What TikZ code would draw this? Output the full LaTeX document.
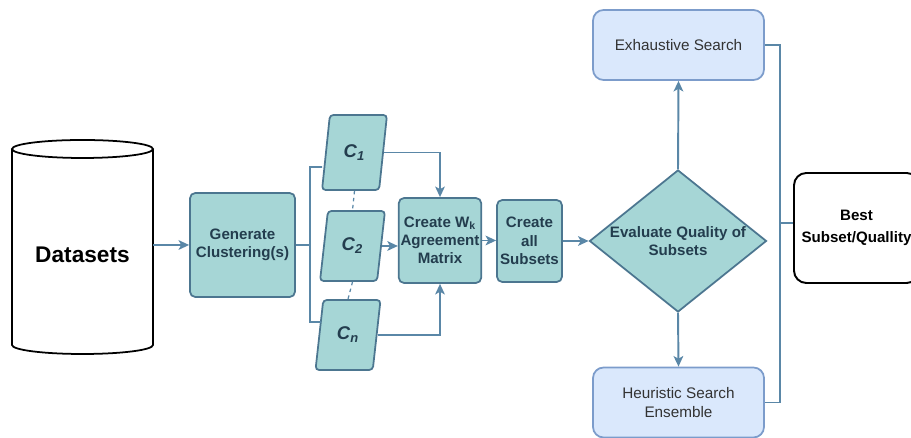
\documentclass[tikz,border=0pt]{standalone}
\usepackage{fontspec}
\setmainfont{Liberation Sans}
\usetikzlibrary{arrows.meta}
\usetikzlibrary{shapes.geometric}
\definecolor{tealfill}{HTML}{A6D6D6}
\definecolor{tealdraw}{HTML}{4C7690}
\definecolor{tealtext}{HTML}{233D4E}
\definecolor{linkcol}{HTML}{5A87A7}
\definecolor{bluefill}{HTML}{DAE8FC}
\definecolor{bluedraw}{HTML}{7C9CCB}
\newcommand{\clab}[1]{\textbf{\textit{C}}\textsubscript{\textbf{\textit{#1}}}}

\begin{document}
\begin{tikzpicture}[>={Stealth[length=6pt,width=5.5pt,inset=1.5pt]},
    proc/.style={draw=tealdraw, fill=tealfill, line width=1pt, rounded corners=3pt, align=center, text=tealtext, inner sep=1pt, font=\fontsize{8.6}{10.4}\selectfont\bfseries},
    clus/.style={trapezium, trapezium left angle=79, trapezium right angle=101, trapezium stretches=true, draw=tealdraw, fill=tealfill, line width=1pt, rounded corners=2pt, minimum width=1.30cm, minimum height=1.40cm, text=tealtext, font=\fontsize{10.5}{12}\selectfont},
    search/.style={draw=bluedraw, fill=bluefill, line width=1pt, rounded corners=6pt, align=center, text=black!80, minimum width=3.42cm, minimum height=1.40cm, font=\fontsize{8.7}{10.6}\selectfont},
    link/.style={draw=linkcol, line width=1.1pt}]
    \useasboundingbox (0,0) rectangle (18.22,8.76);
    \draw[line width=1pt, fill=white] (0.24,5.78) -- (0.24,1.86) arc[start angle=180, end angle=360, x radius=1.41, y radius=0.18] -- (3.06,5.78);
    \draw[line width=1pt, fill=white] (1.65,5.78) ellipse [x radius=1.41, y radius=0.18];
    \node[font=\fontsize{12.9}{15}\selectfont\bfseries] (data) at (1.65,3.66) {Datasets};
    \coordinate (dataR) at (3.06,3.86);
    \node[proc, minimum width=2.10cm, minimum height=2.08cm] (gen) at (4.85,3.86) {Generate\\Clustering(s)};
    \node[clus, minimum height=1.50cm] (c1) at (7.09,5.71) {\clab{1}};
    \node[clus] (c2) at (7.05,3.84) {\clab{2}};
    \node[clus] (cn) at (6.96,2.06) {\clab{n}};
    \node[proc, minimum width=1.60cm, minimum height=1.70cm] (wk) at (8.80,3.95) {Create W\textsubscript{k}\\Agreement\\Matrix};
    \node[proc, minimum width=1.30cm, minimum height=1.64cm] (all) at (10.59,3.94) {Create\\all\\Subsets};
    \node[diamond, draw=tealdraw, fill=tealfill, line width=1pt, aspect=1.25, inner sep=0pt, minimum width=3.54cm, minimum height=2.84cm, align=center, text=tealtext, font=\fontsize{8.6}{10.4}\selectfont\bfseries] (eval) at (13.56,3.94) {Evaluate Quality of\\Subsets};
    \node[search] (exh) at (13.57,7.86) {Exhaustive Search};
    \node[search] (heu) at (13.57,0.71) {Heuristic Search\\Ensemble};
    \node[draw=black, line width=1.1pt, rounded corners=7pt, fill=white, minimum width=2.50cm, minimum height=2.20cm, align=center, font=\fontsize{8.6}{12.5}\selectfont\bfseries] (best) at (17.13,4.20) {Best\\Subset/Quallity};

    \draw[link, ->] (dataR) -- (gen.west);
    \draw[link] (gen.east) -- (6.20,3.86);
    \draw[link] ([shift={(-0.06,-0.29)}]c1.west) -| (6.20,2.32) -- ([shift={(0.05,0.26)}]cn.west);
    \draw[link, ->] (c1.east) -| (wk.north);
    \draw[link, ->] (c2.east) -- (c2.east -| wk.west);
    \draw[link, ->] (cn.east) -| (wk.south);
    \draw[link, line width=0.7pt, dash pattern=on 2pt off 2pt] (c1.south) -- (c2.north);
    \draw[link, line width=0.7pt, dash pattern=on 2pt off 2pt] (c2.south) -- (cn.north);
    \draw[link, ->] (wk.east) -- (wk.east -| all.west);
    \draw[link, ->] (all.east) -- (eval.west);
    \draw[link, ->] (eval.north) -- (exh.south);
    \draw[link, ->] (eval.south) -- (heu.north);
    \draw[link] (exh.east) -| (15.60,4.30) |- (heu.east);
    \draw[link] ([yshift=0.1cm]best.west) -- ++(-0.28,0);
\end{tikzpicture}
\end{document}
